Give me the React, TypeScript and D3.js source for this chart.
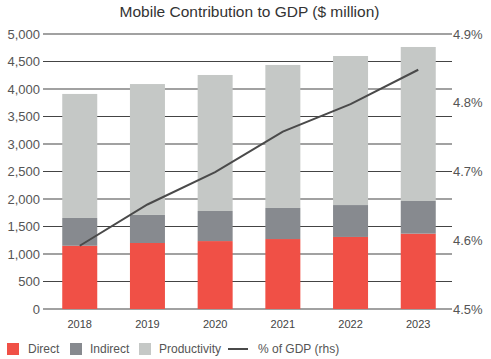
import React from "react";
import * as d3 from "d3";

const years = ["2018", "2019", "2020", "2021", "2022", "2023"];
const direct = [1150, 1200, 1235, 1272, 1310, 1370];
const indirect = [505, 510, 547, 565, 580, 594];
const productivity = [2255, 2380, 2473, 2600, 2710, 2800];
const gdpShare = [4.592, 4.652, 4.699, 4.758, 4.798, 4.848];

const leftTicks = [0, 500, 1000, 1500, 2000, 2500, 3000, 3500, 4000, 4500, 5000];
const rightTicks = [4.5, 4.6, 4.7, 4.8, 4.9];

const seriesKeys = ["Direct", "Indirect", "Productivity"];
const colors = ["#F05046", "#878A8F", "#C5C8C6"];
const lineColor = "#4a4a4a";
const textColor = "#555";

export default function App() {
  const width = 491;
  const height = 359;
  const margin = { top: 34, right: 39, bottom: 50, left: 43 };

  const rows = years.map((y, i) => ({
    year: y,
    Direct: direct[i],
    Indirect: indirect[i],
    Productivity: productivity[i],
  }));
  const stacked = d3.stack<any>().keys(seriesKeys)(rows);

  const x = d3
    .scaleBand()
    .domain(years)
    .range([46, width - margin.right])
    .paddingInner(0.483)
    .paddingOuter(0.24);

  const y = d3
    .scaleLinear()
    .domain([0, 5000])
    .range([height - margin.bottom, margin.top]);

  const y2 = d3
    .scaleLinear()
    .domain([4.5, 4.9])
    .range([height - margin.bottom, margin.top]);

  const line = d3
    .line<number>()
    .x((_, i) => (x(years[i]) as number) + x.bandwidth() / 2)
    .y((d) => y2(d));

  const font = "Liberation Sans, Arial, sans-serif";
  const gridRight = width - margin.right;

  // legend layout
  const legend = [
    { label: "Direct", color: colors[0], sx: 7, tx: 28 },
    { label: "Indirect", color: colors[1], sx: 70, tx: 90 },
    { label: "Productivity", color: colors[2], sx: 139, tx: 159 },
  ];

  return (
    <svg
      width={width}
      height={height}
      style={{ position: "absolute", left: 0, top: 0, background: "#fff" }}
      fontFamily={font}
    >
      <text
        x={249.5}
        y={17}
        textAnchor="middle"
        fontSize={15.5}
        fill="#333"
      >
        Mobile Contribution to GDP ($ million)
      </text>

      {/* gridlines */}
      {leftTicks.map((t) => (
        <line
          key={t}
          x1={margin.left}
          x2={gridRight}
          y1={y(t)}
          y2={y(t)}
          stroke="#444"
          strokeWidth={1.2}
        />
      ))}

      {/* left axis labels */}
      {leftTicks.map((t) => (
        <text
          key={t}
          x={40}
          y={y(t)}
          dy="0.35em"
          textAnchor="end"
          fontSize={13}
          fill={textColor}
        >
          {d3.format(",")(t)}
        </text>
      ))}

      {/* right axis labels */}
      {rightTicks.map((t) => (
        <text
          key={t}
          x={gridRight + 1}
          y={y2(t)}
          dy="0.35em"
          textAnchor="start"
          fontSize={13}
          fill={textColor}
        >
          {t.toFixed(1)}%
        </text>
      ))}

      {/* stacked bars */}
      {stacked.map((s, si) => (
        <g key={s.key} fill={colors[si]}>
          {s.map((d, i) => (
            <rect
              key={i}
              x={x(years[i])}
              y={y(d[1])}
              width={x.bandwidth()}
              height={y(d[0]) - y(d[1])}
            />
          ))}
        </g>
      ))}

      {/* % of GDP line */}
      <path
        d={line(gdpShare) || ""}
        fill="none"
        stroke={lineColor}
        strokeWidth={2}
      />

      {/* x labels */}
      {years.map((yr) => (
        <text
          key={yr}
          x={(x(yr) as number) + x.bandwidth() / 2}
          y={328}
          textAnchor="middle"
          fontSize={11}
          fill="#444"
        >
          {yr}
        </text>
      ))}

      {/* legend */}
      {legend.map((l) => (
        <g key={l.label}>
          <rect x={l.sx} y={343} width={12} height={12} fill={l.color} />
          <text x={l.tx} y={353} fontSize={12} fill={textColor}>
            {l.label}
          </text>
        </g>
      ))}
      <line x1={228} x2={248} y1={349} y2={349} stroke={lineColor} strokeWidth={2} />
      <text x={258} y={353} fontSize={12} fill={textColor}>
        % of GDP (rhs)
      </text>
    </svg>
  );
}
